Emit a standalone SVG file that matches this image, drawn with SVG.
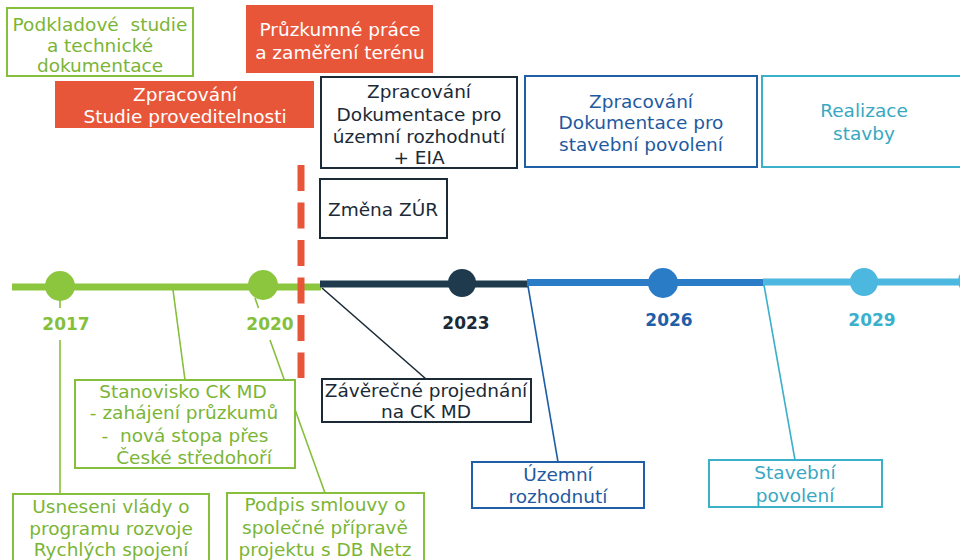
<svg xmlns="http://www.w3.org/2000/svg" width="960" height="560" viewBox="0 0 960 560">
<style>
  text { font-family: "DejaVu Sans", Verdana, sans-serif; font-size: 18.5px; text-anchor: middle; }
  .box { fill: #ffffff; stroke-width: 2; }
  .g { stroke: #86bf3c; }
  .gt { fill: #7bb536; }
  .o { fill: #e8563a; stroke: none; }
  .ot { fill: #ffffff; }
  .k { stroke: #1b2a36; }
  .kt { fill: #1b2a36; }
  .b { stroke: #1f5fa6; }
  .bt { fill: #1f5aa0; }
  .c { stroke: #3db0c9; }
  .ct { fill: #38a8c2; }
  .yr { font-weight: bold; font-size: 17px; }
  .ln { fill: none; stroke-width: 1.6; }
</style>
<g id="timeline">
  <line x1="12" y1="287" x2="321" y2="287" stroke="#8cc63f" stroke-width="7"/>
  <line x1="320" y1="284" x2="528" y2="284" stroke="#1e3a4c" stroke-width="7"/>
  <line x1="527" y1="282.5" x2="764" y2="282.5" stroke="#2b7cc6" stroke-width="7"/>
  <line x1="763" y1="282" x2="960" y2="282" stroke="#4cb8e0" stroke-width="7"/>
  <circle cx="60" cy="286" r="15" fill="#8cc63f"/>
  <circle cx="263" cy="285" r="15" fill="#8cc63f"/>
  <circle cx="462" cy="283" r="14" fill="#1e3a4c"/>
  <circle cx="663" cy="283" r="15" fill="#2b7cc6"/>
  <circle cx="864" cy="282" r="14" fill="#4cb8e0"/>
  <circle cx="972" cy="281" r="14" fill="#4cb8e0"/>
  <text x="66" y="330" class="yr" fill="#86bf3c">2017</text>
  <text x="270" y="330" class="yr" fill="#86bf3c">2020</text>
  <text x="466" y="329" class="yr" fill="#1b2a36">2023</text>
  <text x="669" y="326" class="yr" fill="#1f5fa8">2026</text>
  <text x="872" y="326" class="yr" fill="#3ab0cc">2029</text>
</g>
<g id="connectors">
  <line x1="60" y1="300" x2="60" y2="308" class="ln g"/>
  <line x1="60" y1="340" x2="60" y2="494" class="ln g"/>
  <line x1="255" y1="298" x2="258.5" y2="308" class="ln g"/>
  <line x1="270" y1="340" x2="325" y2="493" class="ln g"/>
  <line x1="173" y1="290" x2="185" y2="380" class="ln g"/>
  <line x1="322" y1="288" x2="426" y2="379" class="ln k"/>
  <line x1="528" y1="286" x2="558" y2="462" class="ln b"/>
  <line x1="764" y1="285" x2="795" y2="460" class="ln c"/>
</g>
<g id="milestone-line">
  <line x1="301" y1="165" x2="301" y2="378" stroke="#e8563a" stroke-width="7" stroke-dasharray="26 11.5"/>
</g>
<g id="podkladove">
  <rect x="7" y="8" width="186" height="68" class="box g"/>
  <text class="gt" xml:space="preserve"><tspan x="100" y="31">Podkladové  studie</tspan><tspan x="100" y="52">a technické</tspan><tspan x="100" y="72">dokumentace</tspan></text>
</g>
<g id="pruzkumne">
  <rect x="246" y="5" width="187" height="68" class="o"/>
  <text class="ot"><tspan x="340" y="36">Průzkumné práce</tspan><tspan x="340" y="59">a zaměření terénu</tspan></text>
</g>
<g id="studie">
  <rect x="55" y="81" width="259" height="47" class="o"/>
  <text class="ot"><tspan x="185" y="101">Zpracování</tspan><tspan x="185" y="123">Studie proveditelnosti</tspan></text>
</g>
<g id="dur">
  <rect x="321" y="77" width="196" height="91" class="box k"/>
  <text class="kt"><tspan x="419" y="98">Zpracování</tspan><tspan x="419" y="121">Dokumentace pro</tspan><tspan x="419" y="143">územní rozhodnutí</tspan><tspan x="419" y="164">+ EIA</tspan></text>
</g>
<g id="dsp">
  <rect x="525" y="76" width="232" height="91" class="box b"/>
  <text class="bt"><tspan x="641" y="108">Zpracování</tspan><tspan x="641" y="129">Dokumentace pro</tspan><tspan x="641" y="151">stavební povolení</tspan></text>
</g>
<g id="realizace">
  <rect x="762" y="76" width="210" height="91" class="box c"/>
  <text class="ct"><tspan x="864" y="117">Realizace</tspan><tspan x="864" y="140">stavby</tspan></text>
</g>
<g id="zmena-zur">
  <rect x="320" y="179" width="127" height="59" class="box k"/>
  <text x="383" y="216" class="kt">Změna ZÚR</text>
</g>
<g id="stanovisko">
  <rect x="75" y="380" width="220" height="88" class="box g"/>
  <text class="gt" xml:space="preserve"><tspan x="183" y="398">Stanovisko CK MD</tspan><tspan x="184" y="419">- zahájení průzkumů</tspan><tspan x="185" y="442">-  nová stopa přes</tspan><tspan x="194" y="464">České středohoří</tspan></text>
</g>
<g id="usneseni">
  <rect x="13" y="494" width="196" height="70" class="box g"/>
  <text class="gt"><tspan x="111" y="513">Usneseni vlády o</tspan><tspan x="111" y="535">programu rozvoje</tspan><tspan x="111" y="556">Rychlých spojení</tspan></text>
</g>
<g id="podpis">
  <rect x="227" y="493" width="197" height="71" class="box g"/>
  <text class="gt"><tspan x="325" y="511">Podpis smlouvy o</tspan><tspan x="325" y="534">společné přípravě</tspan><tspan x="325" y="556">projektu s DB Netz</tspan></text>
</g>
<g id="zaverecne">
  <rect x="322" y="379" width="209" height="43" class="box k"/>
  <text class="kt"><tspan x="426" y="397">Závěrečné projednání</tspan><tspan x="426" y="418">na CK MD</tspan></text>
</g>
<g id="uzemni">
  <rect x="472" y="462" width="172" height="46" class="box b"/>
  <text class="bt"><tspan x="558" y="481">Územní</tspan><tspan x="558" y="503">rozhodnutí</tspan></text>
</g>
<g id="stavebni">
  <rect x="709" y="460" width="173" height="47" class="box c"/>
  <text class="ct"><tspan x="795" y="479">Stavební</tspan><tspan x="795" y="502">povolení</tspan></text>
</g>
</svg>
